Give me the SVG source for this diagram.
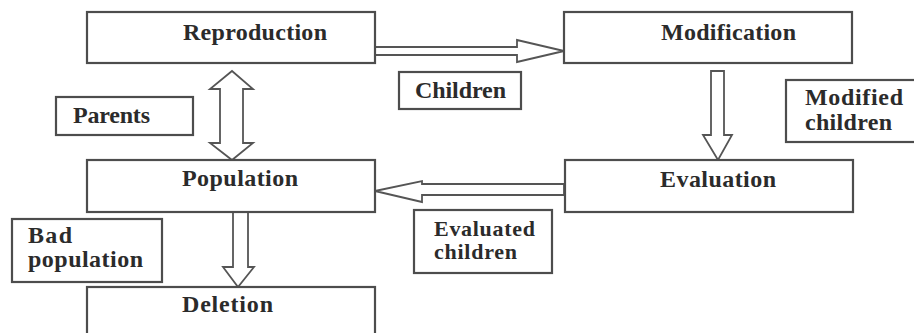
<svg xmlns="http://www.w3.org/2000/svg" width="914" height="333" viewBox="0 0 914 333">
<style>
.box{fill:#fff;stroke:#4d4d4d;stroke-width:2.2}
.arrow{fill:#fff;stroke:#555;stroke-width:1.8;stroke-linejoin:miter}
</style>
<rect width="914" height="333" fill="#fff"/>
<g id="connectors">
<polygon class="arrow" points="375,47 517,47 517,40 564,51 517,62 517,55 375,55"/>
<polygon class="arrow" points="711,71 724,71 724,135 732,135 718,160 703,135 711,135"/>
<polygon class="arrow" points="232,71 253,89 243,89 243,143 253,143 232,160 210,143 220,143 220,89 210,89"/>
<polygon class="arrow" points="564,184 422,184 422,181 375,191 422,202 422,195 564,195"/>
<polygon class="arrow" points="233,212 248,212 248,267 254,267 238,287 223,267 233,267"/>
</g>
<g font-family="Liberation Serif, Times New Roman, serif" font-weight="bold" font-size="24" fill="#2b2b2b">
<g id="reproduction">
<rect class="box" x="87" y="12" width="288" height="51"/>
<text x="183" y="40" textLength="144">Reproduction</text>
</g>
<g id="modification">
<rect class="box" x="564" y="12" width="288" height="51"/>
<text x="661" y="40" textLength="135">Modification</text>
</g>
<g id="population">
<rect class="box" x="87" y="160" width="288" height="52"/>
<text x="182" y="186" textLength="116">Population</text>
</g>
<g id="evaluation">
<rect class="box" x="565" y="160" width="288" height="52"/>
<text x="660" y="187" textLength="116">Evaluation</text>
</g>
<g id="deletion">
<rect class="box" x="87" y="287" width="288" height="52"/>
<text x="182" y="312" textLength="91">Deletion</text>
</g>
<g id="label-children">
<rect class="box" x="399" y="72" width="122" height="37"/>
<text x="415" y="98" textLength="91">Children</text>
</g>
<g id="label-parents">
<rect class="box" x="56" y="97" width="137" height="38"/>
<text x="73" y="123" textLength="77">Parents</text>
</g>
<g id="label-modified-children">
<rect class="box" x="786" y="80" width="140" height="62"/>
<text x="805" y="105" textLength="98">Modified</text>
<text x="805" y="130" textLength="87">children</text>
</g>
<g id="label-bad-population">
<rect class="box" x="12" y="219" width="150" height="63"/>
<text x="28" y="243" textLength="44">Bad</text>
<text x="28" y="267" textLength="115">population</text>
</g>
<g id="label-evaluated-children">
<rect class="box" x="414" y="210" width="138" height="63"/>
<text x="434" y="236" textLength="101" font-size="22">Evaluated</text>
<text x="434" y="259" textLength="83" font-size="22">children</text>
</g>
</g>
</svg>
